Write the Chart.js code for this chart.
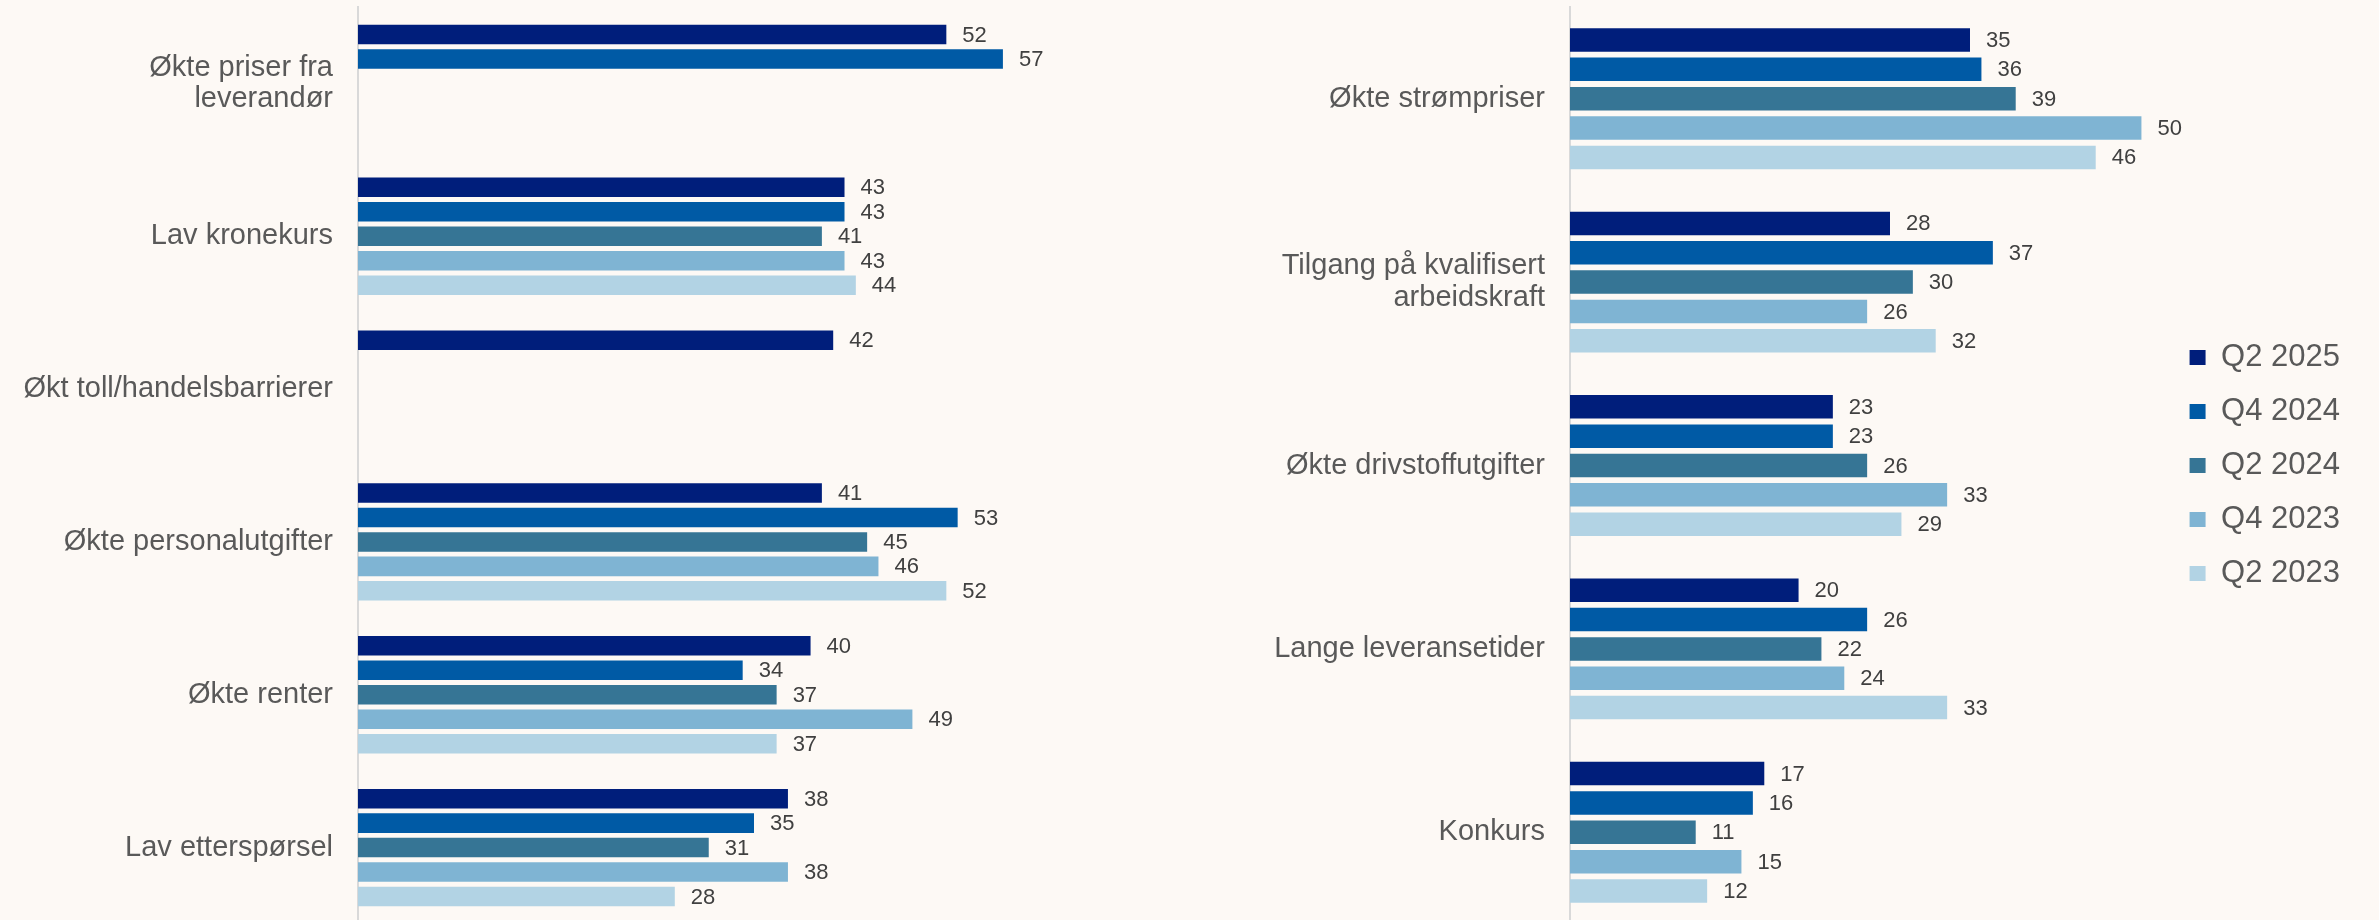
<!DOCTYPE html>
<html>
<head>
<meta charset="utf-8">
<script src="https://cdn.jsdelivr.net/npm/chart.js@4/dist/chart.umd.min.js"></script>
<style>
  html, body { margin: 0; padding: 0; background: #FDF9F5; overflow: hidden; }
  body { width: 2379px; height: 920px; position: relative; }
  .box { position: absolute; top: 0; height: 924px; }
  #leftBox { left: 0; width: 1150px; }
  #rightBox { left: 1150px; width: 1200px; }
</style>
</head>
<body>
<div class="box" id="leftBox"><canvas id="leftChart"></canvas></div>
<div class="box" id="rightBox"><canvas id="rightChart"></canvas></div>
<script>
var seriesNames = ["Q2 2025", "Q4 2024", "Q2 2024", "Q4 2023", "Q2 2023"];
var seriesColors = ["#001E7B", "#005AA5", "#367595", "#7FB4D3", "#B2D3E4"];

// venstre panel
var leftLabels = [["Økte priser fra", "leverandør"], "Lav kronekurs", "Økt toll/handelsbarrierer",
                  "Økte personalutgifter", "Økte renter", "Lav etterspørsel"];
var leftQ2_2025 = [52, 43, 42, 41, 40, 38];
var leftQ4_2024 = [57, 43, null, 53, 34, 35];
var leftQ2_2024 = [null, 41, null, 45, 37, 31];
var leftQ4_2023 = [null, 43, null, 46, 49, 38];
var leftQ2_2023 = [null, 44, null, 52, 37, 28];

// høyre panel
var rightLabels = ["Økte strømpriser", ["Tilgang på kvalifisert", "arbeidskraft"], "Økte drivstoffutgifter",
                   "Lange leveransetider", "Konkurs"];
var rightQ2_2025 = [35, 28, 23, 20, 17];
var rightQ4_2024 = [36, 37, 23, 26, 16];
var rightQ2_2024 = [39, 30, 26, 22, 11];
var rightQ4_2023 = [50, 26, 33, 24, 15];
var rightQ2_2023 = [46, 32, 29, 33, 12];

var fontFamily = "'Liberation Sans', Arial, sans-serif";

function makeDatasets(lists) {
      var sets = [];
      for (var i = 0; i < lists.length; i++) {
            sets.push({
                  label: seriesNames[i],
                  data: lists[i],
                  backgroundColor: seriesColors[i],
                  borderWidth: 0,
                  categoryPercentage: 0.8,
                  barPercentage: 0.8
            });
      }
      return sets;
}

// tallene bak søylene
var valueLabels = {
      id: "valueLabels",
      afterDatasetsDraw: function(chart) {
            var ctx = chart.ctx;
            ctx.save();
            ctx.font = "22px " + fontFamily;
            ctx.fillStyle = "#404040";
            ctx.textAlign = "left";
            ctx.textBaseline = "middle";
            chart.data.datasets.forEach(function(dataset, i) {
                  var meta = chart.getDatasetMeta(i);
                  meta.data.forEach(function(bar, j) {
                        var v = dataset.data[j];
                        if (v === null || v === undefined) return;
                        ctx.fillText(v, bar.x + 16, bar.y + 1);
                  });
            });
            ctx.restore();
      }
};

function makeOptions(axisWidth, xMax, showLegend) {
      return {
            indexAxis: "y",
            responsive: true,
            maintainAspectRatio: false,
            animation: false,
            layout: { padding: { top: 7, bottom: 0, left: 0, right: 0 } },
            scales: {
                  x: { display: false, min: 0, max: xMax },
                  y: {
                        grid: { display: false, drawTicks: false },
                        border: { display: true, color: "#D9D9D9", width: 2 },
                        ticks: {
                              color: "#595959",
                              padding: 25,
                              font: { family: fontFamily, size: 29, lineHeight: 1.08 }
                        },
                        afterFit: function(axis) {
                              axis.width = axisWidth;
                              axis.paddingTop = 0;
                              axis.paddingBottom = 0;
                        }
                  }
            },
            plugins: {
                  tooltip: { enabled: false },
                  legend: {
                        display: showLegend,
                        position: "right",
                        labels: {
                              boxWidth: 16,
                              boxHeight: 15,
                              padding: 23,
                              color: "#595959",
                              font: { family: fontFamily, size: 31 }
                        }
                  }
            }
      };
}

var leftChart = new Chart(document.getElementById("leftChart"), {
      type: "bar",
      data: {
            labels: leftLabels,
            datasets: makeDatasets([leftQ2_2025, leftQ4_2024, leftQ2_2024, leftQ4_2023, leftQ2_2023])
      },
      options: makeOptions(358, 70, false),
      plugins: [valueLabels]
});

var rightChart = new Chart(document.getElementById("rightChart"), {
      type: "bar",
      data: {
            labels: rightLabels,
            datasets: makeDatasets([rightQ2_2025, rightQ4_2024, rightQ2_2024, rightQ4_2023, rightQ2_2023])
      },
      options: makeOptions(420, 52.2, true),
      plugins: [valueLabels]
});
</script>
</body>
</html>
